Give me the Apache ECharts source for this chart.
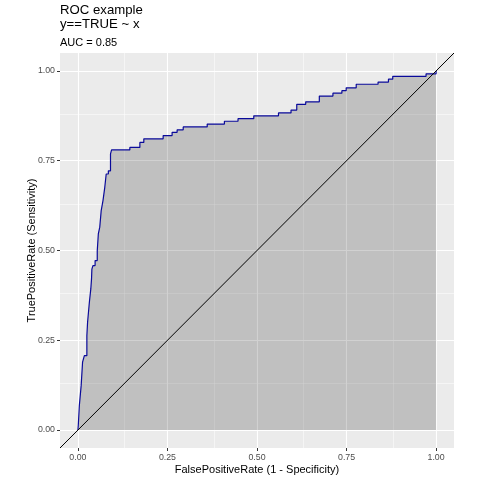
<!DOCTYPE html>
<html>
<head>
<meta charset="utf-8">
<title>ROC example</title>
<script src="https://cdn.jsdelivr.net/npm/echarts@6/dist/echarts.min.js"></script>
<style>
  html, body { margin: 0; padding: 0; background: #fff; }
  #main { width: 480px; height: 480px; }
</style>
</head>
<body>
<div id="main"></div>
<script>
// ROC 曲线的点（假阳性率 / 真阳性率），从图上读出来的
var fpr = [0, 0.001, 0.004, 0.009, 0.013, 0.018, 0.025, 0.027, 0.032, 0.036, 0.038, 0.039, 0.042, 0.048, 0.054, 0.057, 0.061, 0.065, 0.070, 0.075, 0.079, 0.085, 0.091, 0.094,
	0.145, 0.173, 0.184, 0.238, 0.263, 0.277, 0.294, 0.361, 0.409, 0.447, 0.491, 0.560, 0.595, 0.611, 0.636, 0.674, 0.712, 0.737, 0.749, 0.777, 0.838, 0.867, 0.879, 0.972, 1.0];
var tpr = [0, 0.012, 0.068, 0.123, 0.189, 0.207, 0.263, 0.300, 0.356, 0.393, 0.421, 0.448, 0.458, 0.472, 0.499, 0.546, 0.565, 0.611, 0.639, 0.676, 0.713, 0.722, 0.769, 0.780,
	0.787, 0.801, 0.811, 0.820, 0.829, 0.836, 0.844, 0.852, 0.860, 0.867, 0.875, 0.883, 0.891, 0.907, 0.914, 0.930, 0.938, 0.945, 0.953, 0.963, 0.969, 0.977, 0.985, 0.992, 1.0];
var diagonal = [-0.05, 1.05]; // 对角线 y = x
var majorTicks = [0, 0.25, 0.5, 0.75, 1];
var minorTicks = [0.125, 0.375, 0.625, 0.875];
var auc = 0.85;

var font = "'Liberation Sans', Arial, sans-serif";

var rocData = [];
for (var i = 0; i < fpr.length; i++) {
	rocData.push([fpr[i], tpr[i]]);
}

// 网格线用 markLine 画（ggplot 的网格要铺满整个面板）
var gridLines = [];
majorTicks.forEach(function (v) {
	gridLines.push({ xAxis: v, lineStyle: { color: '#fff', width: 1.1, type: 'solid' } });
	gridLines.push({ yAxis: v, lineStyle: { color: '#fff', width: 1.1, type: 'solid' } });
});
minorTicks.forEach(function (v) {
	gridLines.push({ xAxis: v, lineStyle: { color: '#fff', width: 0.5, type: 'solid' } });
	gridLines.push({ yAxis: v, lineStyle: { color: '#fff', width: 0.5, type: 'solid' } });
});

function axisCommon(name, gap) {
	return {
		type: 'value',
		min: -0.05,
		max: 1.05,
		name: name,
		nameLocation: 'middle',
		nameGap: gap,
		nameMoveOverlap: false,
		nameTextStyle: { fontFamily: font, fontSize: 11, color: '#000' },
		axisLine: { show: false, onZero: false },
		splitLine: { show: false },
		axisTick: {
			show: true,
			length: 3,
			customValues: majorTicks,
			lineStyle: { color: '#333', width: 1 }
		},
		axisLabel: {
			customValues: majorTicks,
			fontFamily: font,
			fontSize: 8.8,
			color: '#4D4D4D',
			formatter: function (v) { return v.toFixed(2); }
		}
	};
}

var xAxis = axisCommon('FalsePositiveRate (1 - Specificity)', 16);
xAxis.axisLabel.margin = 5;
var yAxis = axisCommon('TruePositiveRate (Sensitivity)', 23);
yAxis.axisLabel.margin = 5;

var myChart = echarts.init(document.getElementById('main'));
var option = {
	animation: false,
	backgroundColor: '#fff',
	title: {
		text: 'ROC example\ny==TRUE ~ x',
		subtext: 'AUC = ' + auc.toFixed(2),
		left: 60,
		top: 3,
		padding: 0,
		itemGap: 5,
		textStyle: { fontFamily: font, fontSize: 13.2, fontWeight: 'normal', color: '#000', lineHeight: 14.5 },
		subtextStyle: { fontFamily: font, fontSize: 11, color: '#000' }
	},
	grid: {
		left: 60,
		top: 53,
		width: 394,
		height: 395,
		show: true,
		backgroundColor: '#EBEBEB',
		borderWidth: 0
	},
	xAxis: xAxis,
	yAxis: yAxis,
	series: [
		{
			// 网格
			type: 'line',
			data: [],
			z: 1,
			silent: true,
			markLine: {
				z: 0,
				silent: true,
				symbol: ['none', 'none'],
				label: { show: false },
				emphasis: { disabled: true },
				data: gridLines
			}
		},
		{
			// ROC 曲线 + 面积
			type: 'line',
			data: rocData,
			step: 'end',
			z: 2,
			symbol: 'none',
			lineStyle: { color: '#0A0A9A', width: 1.2 },
			areaStyle: { color: 'rgba(0,0,0,0.26)' }
		},
		{
			type: 'line',
			data: [[diagonal[0], diagonal[0]], [diagonal[1], diagonal[1]]],
			z: 3,
			symbol: 'none',
			lineStyle: { color: '#000', width: 1 }
		}
	]
};
myChart.setOption(option);
</script>
</body>
</html>
